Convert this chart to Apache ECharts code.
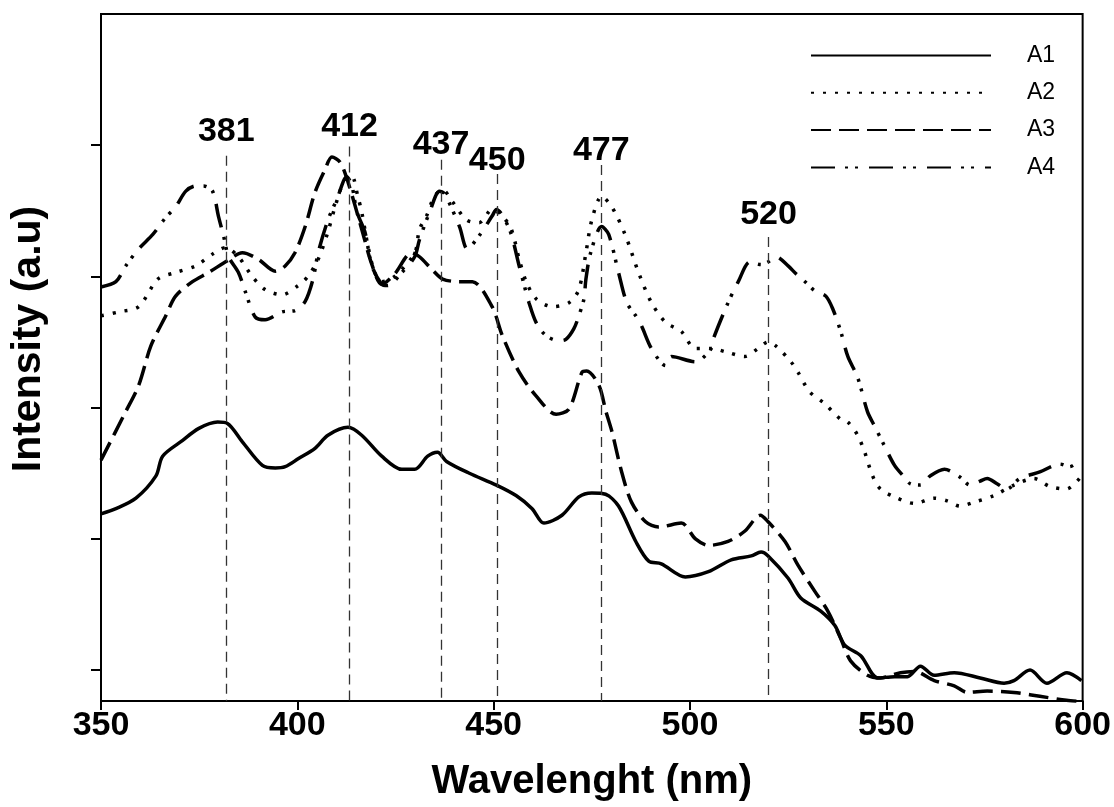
<!DOCTYPE html>
<html>
<head>
<meta charset="utf-8">
<script src="https://cdn.jsdelivr.net/npm/echarts@6/dist/echarts.min.js"></script>
<style>
  html, body { margin: 0; padding: 0; background: #fff; }
  #chart-container { width: 1114px; height: 807px; }
</style>
</head>
<body>
<div id="chart-container"></div>
<script>
// values: [wavelength nm, intensity a.u.]
var a1 = [[350,1.19],[353.8,1.23],[358.9,1.31],[364,1.48],[365.7,1.63],[370.8,1.75],[374.8,1.84],[379.7,1.89],[382.2,1.88],[386,1.74],[391.1,1.56],[394.4,1.54],[396.9,1.55],[400.2,1.61],[404.5,1.69],[407.8,1.79],[412.9,1.85],[416.4,1.79],[421.5,1.63],[426.6,1.53],[429.9,1.53],[433.2,1.63],[435.7,1.66],[438,1.59],[443.8,1.5],[450.7,1.41],[455.7,1.33],[459.8,1.23],[462.8,1.12],[467.4,1.18],[471.7,1.32],[475,1.35],[478.5,1.34],[481.8,1.25],[486.2,0.98],[489.5,0.83],[492.7,0.81],[498.8,0.71],[504.7,0.75],[510.5,0.84],[515.6,0.87],[518.1,0.9],[519.9,0.87],[525,0.7],[528.2,0.55],[533.3,0.45],[536.9,0.34],[539.4,0.19],[543.5,0.11],[547.8,-0.06],[552.1,-0.05],[555.4,-0.05],[558.7,0.03],[562.2,-0.04],[567.3,-0.02],[573.9,-0.06],[580,-0.1],[582.5,-0.08],[586.6,0],[590.9,-0.1],[596,-0.02],[599.7,-0.08]];

var a2 = [[350,2.7],[354.6,2.73],[359.6,2.77],[364.5,2.98],[369,3.03],[374.1,3.08],[378.4,3.17],[381.7,3.22],[385,3.15],[388.5,3],[391.8,2.9],[396.1,2.86],[400.2,2.93],[402.7,3],[405.3,3.13],[407.8,3.34],[409.6,3.53],[412.1,3.74],[413.9,3.76],[415.4,3.61],[416.4,3.49],[418,3.23],[419.7,3.03],[421.5,2.96],[424.8,3],[429.9,3.18],[431.1,3.36],[432.9,3.46],[434.9,3.61],[437,3.66],[439.5,3.57],[443.1,3.43],[446.3,3.41],[449.6,3.51],[452.2,3.46],[454.5,3.36],[456.5,3.13],[458.3,2.96],[460.8,2.83],[464.9,2.77],[469.2,2.8],[471.7,2.9],[473.5,3.18],[475,3.43],[477.5,3.61],[480.1,3.53],[483.6,3.31],[486.9,3.03],[490.2,2.8],[493.8,2.65],[497.8,2.58],[501.4,2.45],[505.4,2.45],[509.7,2.42],[514,2.39],[517.3,2.45],[519.9,2.5],[521.9,2.47],[525.7,2.35],[527.5,2.27],[530.5,2.12],[534.3,2.03],[538.4,1.91],[540.2,1.89],[542.7,1.79],[544.5,1.66],[546.5,1.48],[548.5,1.38],[552.1,1.32],[557.2,1.27],[562.2,1.31],[565.5,1.29],[568.8,1.25],[572.4,1.28],[577.4,1.33],[582.5,1.41],[587.6,1.46],[591.6,1.4],[595.9,1.38],[599.2,1.46]];

var a3 = [[350,1.6],[356.3,1.97],[359.6,2.17],[362.7,2.47],[366.5,2.7],[369,2.85],[373.3,2.96],[377.4,3.03],[382.2,3.12],[386,3.18],[390.1,3.13],[394.4,3.04],[396.9,3.08],[399.4,3.18],[402,3.38],[404.5,3.64],[407,3.81],[408.8,3.91],[410.9,3.87],[412.9,3.72],[416.4,3.36],[419,3.09],[421.5,2.94],[424.8,3.02],[429.1,3.18],[431.1,3.15],[434.4,3.05],[437,2.98],[441.3,2.96],[444.6,2.96],[449.6,2.77],[452.2,2.55],[456.5,2.27],[460.8,2.09],[465.9,1.95],[469.2,1.99],[472.5,2.27],[473.7,2.28],[476.8,2.17],[478.6,1.97],[480.1,1.82],[482.6,1.51],[485.1,1.28],[488.7,1.13],[492,1.09],[497.8,1.12],[501.4,1],[504.7,0.95],[509.7,0.98],[514,1.06],[517.9,1.18],[519.9,1.13],[524.2,0.98],[527.5,0.8],[531.8,0.6],[535.1,0.45],[538.4,0.24],[540.9,0.07],[545.2,-0.04],[548.5,-0.06],[553.6,-0.02],[557.2,-0.01],[562.2,-0.08],[567.3,-0.12],[570.6,-0.17],[575.7,-0.16],[582.5,-0.17],[589.1,-0.2],[595.9,-0.23],[599.7,-0.24]];

var a4 = [[350,2.92],[353.8,2.96],[356.3,3.08],[359.6,3.21],[363.2,3.32],[366.5,3.45],[369,3.53],[371.6,3.65],[374.1,3.69],[376.1,3.69],[378.4,3.65],[379.9,3.46],[381.2,3.31],[382.5,3.15],[385,3.03],[386.8,2.88],[389.3,2.69],[391.8,2.67],[396.1,2.73],[399.4,2.74],[402,2.81],[404,2.98],[405.3,3.18],[407.8,3.43],[410.1,3.59],[412.6,3.76],[413.9,3.69],[415.2,3.49],[417.2,3.34],[419,3.08],[421.5,2.94],[423,2.93],[426.6,3.03],[429.9,3.15],[431.1,3.28],[433.7,3.49],[436.2,3.65],[437.5,3.63],[441.3,3.38],[443.3,3.21],[446.3,3.31],[449.6,3.46],[450.7,3.51],[454,3.36],[456.5,3.08],[457.8,2.93],[459,2.8],[460.8,2.65],[463.3,2.55],[466.6,2.51],[468.4,2.52],[470.4,2.6],[471.7,2.7],[473,2.83],[473.5,2.98],[474.7,3.18],[477.5,3.38],[479.3,3.32],[481.8,3.03],[483.9,2.8],[486.2,2.7],[487.7,2.62],[490.2,2.45],[493.8,2.32],[495.3,2.39],[501.4,2.35],[502.9,2.37],[505.4,2.45],[505.9,2.52],[509.7,2.8],[512.3,2.96],[515.3,3.11],[518.1,3.09],[519.9,3.11],[521.9,3.15],[525,3.08],[527,3.02],[529.3,2.96],[531.8,2.89],[534.6,2.85],[536.4,2.75],[538.4,2.58],[540.2,2.39],[542.7,2.23],[545.2,1.97],[547,1.86],[549.5,1.71],[552.1,1.56],[554.6,1.47],[556.1,1.42],[558.7,1.41],[561.2,1.48],[564.8,1.53],[568.8,1.47],[571.3,1.41],[573.9,1.44],[575.7,1.46],[578.2,1.42],[580.7,1.38],[584,1.46],[589.1,1.51],[594.2,1.57],[596.7,1.55],[599.2,1.6]];

// peak markers: where the dashed guide sits, its label, and where the guide starts
var peakNm = [381.9, 413.3, 436.6, 450.9, 477.4, 520.0];
var peakLabels = ['381', '412', '437', '450', '477', '520'];
var peakTop = [3.92, 3.99, 3.89, 3.78, 3.85, 3.30];

var yTicks = [0, 1, 2, 3, 4];
var yMin = -0.2356, yMax = 5;

var labelGap = [7, 3, -2, -4, -3, 5];

var chartDom = document.getElementById('chart-container');
var myChart = echarts.init(chartDom, null, {renderer: 'canvas'});
var font = '"Liberation Sans", Arial, sans-serif';

var peakLines = peakNm.map(function (x, i) {
    return [
        {coord: [x, peakTop[i]], name: peakLabels[i], label: {distance: labelGap[i]}},
        {coord: [x, yMin]}
    ];
});

var option = {
    animation: false,
    backgroundColor: '#fff',
    grid: {
        left: 100,
        right: 28,
        top: 14,
        bottom: 104,
        show: true,
        borderColor: '#000',
        borderWidth: 2
    },
    legend: {
        orient: 'vertical',
        left: 805,
        top: 39,
        itemWidth: 180,
        itemHeight: 20,
        itemGap: 14.3,
        data: ['A1', 'A2', 'A3', 'A4'],
        itemStyle: {opacity: 0, borderWidth: 0},
        textStyle: {
            fontFamily: font,
            fontSize: 23,
            color: '#000',
            lineHeight: 20,
            padding: [0, 0, 0, 31]
        }
    },
    xAxis: {
        type: 'value',
        min: 350,
        max: 600,
        interval: 50,
        name: 'Wavelenght (nm)',
        nameLocation: 'middle',
        nameGap: 61,
        nameTextStyle: {fontFamily: font, fontSize: 40, fontWeight: 'bold', color: '#000'},
        axisLine: {onZero: false, lineStyle: {color: '#000', width: 2}},
        axisTick: {length: 9, lineStyle: {color: '#000', width: 2}},
        axisLabel: {fontFamily: font, fontSize: 34, fontWeight: 'bold', color: '#000', margin: 8},
        splitLine: {show: false}
    },
    yAxis: {
        type: 'value',
        min: yMin,
        max: yMax,
        name: 'Intensity (a.u)',
        nameLocation: 'middle',
        nameGap: 52,
        nameTextStyle: {fontFamily: font, fontSize: 41, fontWeight: 'bold', color: '#000', padding: [0, 0, 0, 37]},
        axisLine: {onZero: false, lineStyle: {color: '#000', width: 2}},
        axisTick: {length: 10, customValues: yTicks, lineStyle: {color: '#000', width: 2}},
        axisLabel: {show: false},
        splitLine: {show: false}
    },
    series: [
        {
            name: 'A1', type: 'line', data: a1, symbol: 'none', smooth: 0.3,
            lineStyle: {color: '#000', width: 3.5, type: 'solid'},
            itemStyle: {color: '#000'},
            markLine: {
                silent: true,
                symbol: ['none', 'none'],
                lineStyle: {color: '#333', width: 1.3, type: [10, 6]},
                label: {
                    show: true, position: 'start', formatter: '{b}',
                    fontFamily: font, fontSize: 34, fontWeight: 'bold', color: '#000'
                },
                data: peakLines
            }
        },
        {
            name: 'A2', type: 'line', data: a2, symbol: 'none', smooth: 0.3,
            lineStyle: {color: '#000', width: 3.5, type: [3, 9]},
            itemStyle: {color: '#000'}
        },
        {
            name: 'A3', type: 'line', data: a3, symbol: 'none', smooth: 0.3,
            lineStyle: {color: '#000', width: 3.5, type: [20, 8]},
            itemStyle: {color: '#000'}
        },
        {
            name: 'A4', type: 'line', data: a4, symbol: 'none', smooth: 0.3,
            lineStyle: {color: '#000', width: 3.5, type: [24, 10, 3, 7, 3, 11]},
            itemStyle: {color: '#000'}
        }
    ]
};

option && myChart.setOption(option);
</script>
</body>
</html>
